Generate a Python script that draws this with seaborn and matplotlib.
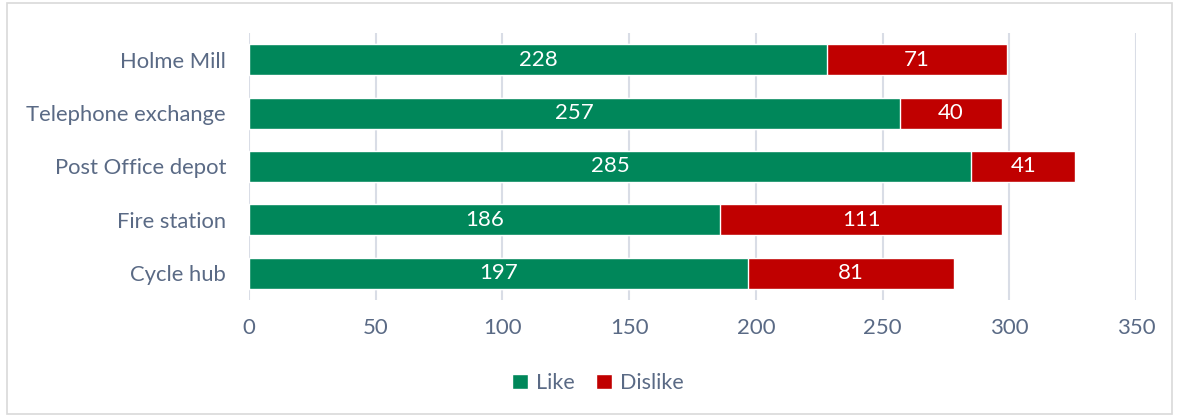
import matplotlib
matplotlib.use("Agg")
import matplotlib.pyplot as plt
import seaborn as sns
import pandas as pd
from matplotlib.patches import Patch, Rectangle

categories = ["Holme Mill", "Telephone exchange", "Post Office depot", "Fire station", "Cycle hub"]
like = [228, 257, 285, 186, 197]
dislike = [71, 40, 41, 111, 81]
xticks = [0, 50, 100, 150, 200, 250, 300, 350]

GREEN = "#00875a"
RED = "#c00000"
TEXT = "#5a6a85"
GRID = "#d9dde6"

sns.set_theme(style="white")
plt.rcParams["font.family"] = ["Lato", "DejaVu Sans"]

df = pd.DataFrame({"cat": categories, "like": like, "dislike": dislike})
df["total"] = df["like"] + df["dislike"]

fig = plt.figure(figsize=(11.8, 4.19), dpi=100)
ax = fig.add_axes([249/1180, 1-300/419, (1136-249)/1180, 267/419])

sns.barplot(data=df, y="cat", x="total", color=RED, orient="h", width=0.58,
            ax=ax, saturation=1, zorder=2)
sns.barplot(data=df, y="cat", x="like", color=GREEN, orient="h", width=0.58,
            ax=ax, saturation=1, zorder=3)

for i, (l, d) in enumerate(zip(like, dislike)):
    ax.text(l/2, i, str(l), ha="center", va="center", color="white", fontsize=16, zorder=4)
    ax.text(l + d/2, i, str(d), ha="center", va="center", color="white", fontsize=16, zorder=4)

ax.set_xlim(0, 350)
ax.set_ylim(4.5, -0.5)
ax.set_xticks(xticks)
ax.set_xticklabels([str(t) for t in xticks])
ax.set_xlabel("")
ax.set_ylabel("")
ax.grid(axis="x", color=GRID, linewidth=1.5, zorder=0)
ax.set_axisbelow(True)
for s in ax.spines.values():
    s.set_visible(False)
ax.tick_params(axis="both", length=0, labelcolor=TEXT)
ax.tick_params(axis="x", pad=13, labelsize=16)
ax.tick_params(axis="y", pad=16.5, labelsize=15.8)

handles = [Patch(facecolor=GREEN, label="Like"), Patch(facecolor=RED, label="Dislike")]
leg = fig.legend(handles=handles, loc="center", bbox_to_anchor=(598/1180, 1-383/419), ncol=2,
                 frameon=False, fontsize=15.5, handlelength=0.75, handleheight=0.75,
                 handletextpad=0.35, columnspacing=1.0)
for t in leg.get_texts():
    t.set_color(TEXT)

fig.patches.append(Rectangle((7/1180, 1-414/419), 1165/1180, 411/419, transform=fig.transFigure,
                             fill=False, edgecolor="#d9d9d9", linewidth=1.2))

fig.savefig("out.png", dpi=100)
